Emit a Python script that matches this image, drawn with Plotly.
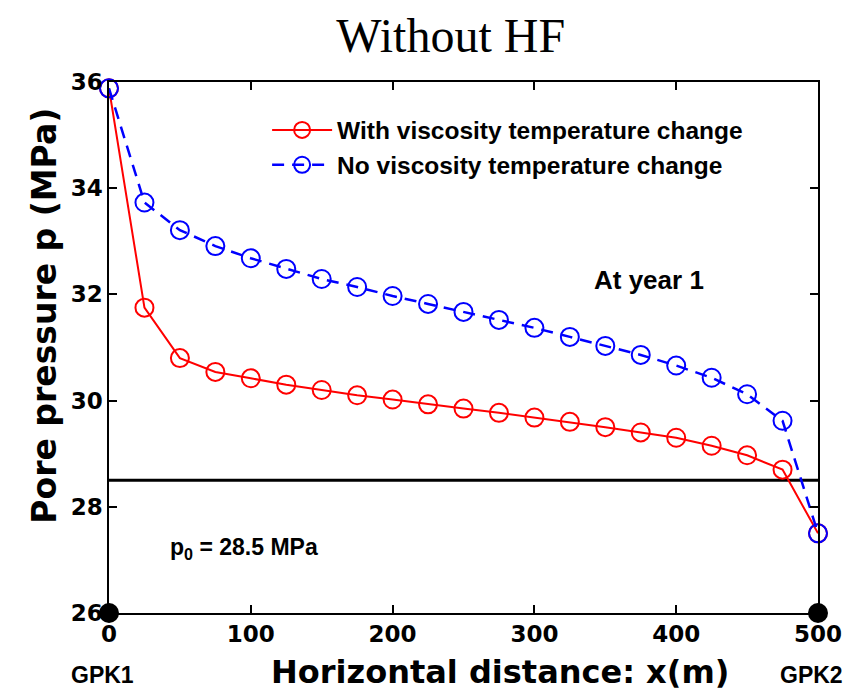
import plotly.graph_objects as go

# distance along the well pair (m)
x_m = [0, 25, 50, 75, 100, 125, 150, 175, 200, 225, 250, 275, 300, 325, 350,
       375, 400, 425, 450, 475, 500]

# pore pressure (MPa)
p_with_visc = [35.88, 31.75, 30.80, 30.54, 30.42, 30.30, 30.20, 30.10, 30.02,
               29.93, 29.85, 29.77, 29.68, 29.60, 29.50, 29.40, 29.30, 29.15,
               28.97, 28.70, 27.50]
p_no_visc = [35.88, 33.73, 33.21, 32.91, 32.68, 32.48, 32.29, 32.14, 31.97,
             31.82, 31.67, 31.52, 31.37, 31.20, 31.03, 30.86, 30.66, 30.43,
             30.12, 29.62, 27.50]

p0 = 28.5
wells_x = [0, 500]
wells_y = [26, 26]
well_names = ["GPK1", "GPK2"]

arial = "Liberation Sans"
wide = "DejaVu Sans"

fig = go.Figure()

# initial pore pressure line
fig.add_trace(go.Scatter(
    x=[0, 500], y=[p0, p0], mode="lines",
    line=dict(color="black", width=3), showlegend=False, hoverinfo="skip"
))

fig.add_trace(go.Scatter(
    x=x_m, y=p_with_visc, mode="lines+markers",
    name="With viscosity temperature change",
    line=dict(color="#ff0000", width=2),
    marker=dict(symbol="circle-open", size=18, color="#ff0000",
                line=dict(width=2)),
    cliponaxis=False
))

fig.add_trace(go.Scatter(
    x=x_m, y=p_no_visc, mode="lines+markers",
    name="No viscosity temperature change",
    line=dict(color="#0000ff", width=2.5, dash="12px,8px"),
    marker=dict(symbol="circle-open", size=18, color="#0000ff",
                line=dict(width=2)),
    cliponaxis=False
))

# well positions
fig.add_trace(go.Scatter(
    x=wells_x, y=wells_y, mode="markers",
    marker=dict(symbol="circle", size=20, color="black"),
    showlegend=False, cliponaxis=False, hoverinfo="skip"
))

for wx, name in zip(wells_x, well_names):
    fig.add_annotation(x=wx, y=0, xref="x", yref="paper", yshift=-62,
                       xshift=-7, xanchor="center", yanchor="middle",
                       text="<b>%s</b>" % name, showarrow=False,
                       font=dict(family=arial, size=23, color="black"))

fig.add_annotation(x=381, y=32.27, text="<b>At year 1</b>", showarrow=False,
                   font=dict(family=arial, size=26, color="black"))
fig.add_annotation(x=95, y=27.22,
                   text="<b>p<sub>0</sub> = 28.5 MPa</b>", showarrow=False,
                   font=dict(family=arial, size=23, color="black"))

# axis titles placed by hand, like the original
fig.add_annotation(x=0.551, y=0, xref="paper", yref="paper", yshift=-59,
                   xanchor="center", yanchor="middle",
                   text="<b>Horizontal distance: x(m)</b>", showarrow=False,
                   font=dict(family=wide, size=32, color="black"))
fig.add_annotation(x=0, y=0.56, xref="paper", yref="paper", xshift=-64,
                   xanchor="center", yanchor="middle",
                   text="<b>Pore pressure p (MPa)</b>", showarrow=False,
                   textangle=-90,
                   font=dict(family=wide, size=33, color="black"))

axis_common = dict(
    showgrid=False, zeroline=False, showline=True, linecolor="black",
    linewidth=1.5, mirror="ticks", ticks="inside", ticklen=8,
    tickcolor="black", tickwidth=1.5,
    tickfont=dict(family=wide, size=23, color="black", weight="bold"),
)

fig.update_layout(
    width=858, height=682,
    paper_bgcolor="white", plot_bgcolor="white",
    margin=dict(l=101, r=48, t=74, b=77),
    title=dict(text="Without HF", x=0.516, xanchor="center", y=0.985,
               yanchor="top",
               font=dict(family="Liberation Serif", size=48, color="black")),
    xaxis=dict(range=[0, 500], tickvals=[0, 100, 200, 300, 400, 500],
               **axis_common),
    yaxis=dict(range=[26, 36], tickvals=[26, 28, 30, 32, 34, 36],
               **axis_common),
    legend=dict(x=0.223, y=0.952, xanchor="left", yanchor="top",
                bgcolor="rgba(0,0,0,0)", borderwidth=0,
                font=dict(family=arial, size=24.5, color="black",
                          weight="bold"),
                itemwidth=60, tracegroupgap=0),
)

fig.write_html("out.html")
